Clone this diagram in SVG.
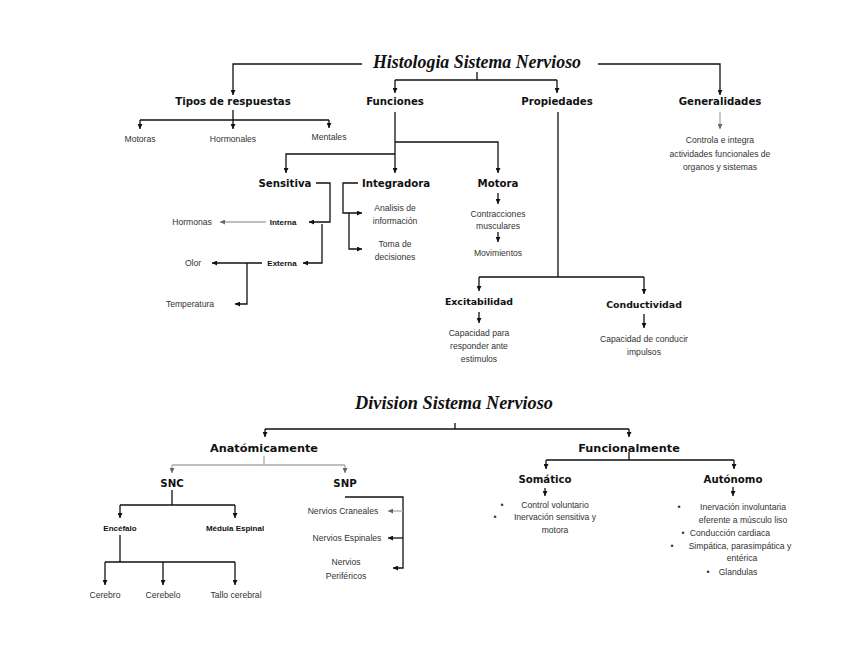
<svg xmlns="http://www.w3.org/2000/svg" width="848" height="655" viewBox="0 0 848 655">
<style>
.t{font-family:"Liberation Serif",serif;font-style:italic;font-weight:bold;fill:#111}
.h{font-family:"DejaVu Sans",sans-serif;font-weight:bold;font-size:10.2px;fill:#111;text-anchor:middle;dominant-baseline:central}
.hs{font-family:"DejaVu Sans",sans-serif;font-weight:bold;font-size:9.4px;fill:#111;text-anchor:middle;dominant-baseline:central}
.hb{font-family:"DejaVu Sans",sans-serif;font-weight:bold;font-size:11.3px;fill:#111;text-anchor:middle;dominant-baseline:central}
.s{font-family:"Liberation Sans",sans-serif;font-size:8.6px;fill:#333;text-anchor:middle;dominant-baseline:central}
.sb{font-family:"Liberation Sans",sans-serif;font-weight:bold;font-size:8px;fill:#111;text-anchor:middle;dominant-baseline:central}
.c path{fill:none;stroke:#111;stroke-width:1.3}
.c path.g{stroke:#aaa}
.c path.a{marker-end:url(#ar)}
.c path.ag{marker-end:url(#arg)}
</style>
<defs>
<marker id="ar" markerWidth="5" markerHeight="5" refX="5" refY="2.5" orient="auto" markerUnits="userSpaceOnUse"><path d="M0,0 L5,2.5 L0,5 z" fill="#111"/></marker>
<marker id="arg" markerWidth="5" markerHeight="5" refX="5" refY="2.5" orient="auto" markerUnits="userSpaceOnUse"><path d="M0,0 L5,2.5 L0,5 z" fill="#666"/></marker>
</defs>
<rect width="848" height="655" fill="#fff"/>
<g class="c" id="connectors">
<path d="M362,64 H233 V95" class="a"/>
<path d="M598,64 H720 V95" class="a"/>
<path d="M477,72 V80 M395,80 H557"/>
<path d="M395,80 V93" class="a"/>
<path d="M557,80 V93" class="a"/>
<path d="M233,110 V120 M140,120 H329"/>
<path d="M140,120 V129" class="a"/>
<path d="M233,120 V129" class="a"/>
<path d="M329,120 V128" class="a"/>
<path d="M395,112 V173" class="a"/>
<path d="M395,142 H498 V173" class="a"/>
<path d="M395,154 H286 V173" class="a"/>
<path d="M558,112 V277 M479,277 H644"/>
<path d="M479,277 V291" class="a"/>
<path d="M644,277 V294" class="a"/>
<path d="M720,112 V129" class="g ag"/>
<path d="M316,183 H330 V222 H309" class="a"/>
<path d="M322,224 V263 H303" class="a"/>
<path d="M266,222 H220" class="g ag"/>
<path d="M262,263 H212" class="a"/>
<path d="M247,263 V304 H235" class="a"/>
<path d="M358,183 H343 V213 H362" class="a"/>
<path d="M349,213 V249 H362" class="a"/>
<path d="M498,193 V204" class="a"/>
<path d="M498,232 V242" class="a"/>
<path d="M479,312 V323" class="a"/>
<path d="M644,314 V328" class="a"/>
<path d="M265,429 H629 M455,423 V429"/>
<path d="M265,429 V437" class="a"/>
<path d="M629,429 V437" class="a"/>
<path d="M264,456 V465 M172,465 H345" class="g"/>
<path d="M172,465 V473" class="g ag"/>
<path d="M345,465 V473" class="g ag"/>
<path d="M172,490 V505 M120,505 H235"/>
<path d="M120,505 V518" class="a"/>
<path d="M235,505 V518" class="a"/>
<path d="M120,535 V562 M105,562 H235"/>
<path d="M105,562 V585" class="a"/>
<path d="M163,562 V585" class="a"/>
<path d="M235,562 V585" class="a"/>
<path d="M345,497 H403 V568 H393" class="a"/>
<path d="M403,511 H388" class="g ag"/>
<path d="M403,538 H388" class="a"/>
<path d="M629,452 V460 M546,460 H734"/>
<path d="M546,460 V469" class="a"/>
<path d="M734,460 V469" class="a"/>
<path d="M545,488 V496" class="a"/>
<path d="M733,487 V496" class="a"/>
</g>
<g id="title1"><text class="t" x="477" y="68" font-size="19" text-anchor="middle" textLength="208" lengthAdjust="spacingAndGlyphs">Histologia Sistema Nervioso</text></g>
<g id="tipos"><text class="h" x="233" y="101">Tipos de respuestas</text></g>
<g id="motoras"><text class="s" x="140" y="139">Motoras</text></g>
<g id="hormonales"><text class="s" x="233" y="139">Hormonales</text></g>
<g id="mentales"><text class="s" x="329" y="137">Mentales</text></g>
<g id="funciones"><text class="h" x="395" y="101">Funciones</text></g>
<g id="propiedades"><text class="h" x="557" y="101">Propiedades</text></g>
<g id="generalidades"><text class="h" x="720" y="101">Generalidades</text></g>
<g id="gen-text"><text class="s" x="720" y="140">Controla e integra</text><text class="s" x="720" y="154">actividades funcionales de</text><text class="s" x="720" y="167">organos y sistemas</text></g>
<g id="sensitiva"><text class="h" x="285" y="183">Sensitiva</text></g>
<g id="interna"><text class="sb" x="283" y="222">Interna</text></g>
<g id="hormonas"><text class="s" x="192" y="222">Hormonas</text></g>
<g id="externa"><text class="sb" x="282" y="263">Externa</text></g>
<g id="olor"><text class="s" x="193" y="263">Olor</text></g>
<g id="temperatura"><text class="s" x="190" y="304">Temperatura</text></g>
<g id="integradora"><text class="h" x="396" y="183">Integradora</text></g>
<g id="analisis"><text class="s" x="395" y="208">Analisis de</text><text class="s" x="395" y="221">información</text></g>
<g id="toma"><text class="s" x="395" y="244">Toma de</text><text class="s" x="395" y="257">decisiones</text></g>
<g id="motora"><text class="h" x="498" y="183">Motora</text></g>
<g id="contracciones"><text class="s" x="498" y="214">Contracciones</text><text class="s" x="498" y="226">musculares</text></g>
<g id="movimientos"><text class="s" x="498" y="253">Movimientos</text></g>
<g id="excitabilidad"><text class="hs" x="479" y="301">Excitabilidad</text></g>
<g id="exc-text"><text class="s" x="479" y="333">Capacidad para</text><text class="s" x="479" y="346">responder ante</text><text class="s" x="479" y="359">estimulos</text></g>
<g id="conductividad"><text class="hs" x="644" y="304">Conductividad</text></g>
<g id="cond-text"><text class="s" x="644" y="339">Capacidad de conducir</text><text class="s" x="644" y="352">impulsos</text></g>
<g id="title2"><text class="t" x="454" y="409" font-size="19" text-anchor="middle" textLength="198" lengthAdjust="spacingAndGlyphs">Division Sistema Nervioso</text></g>
<g id="anatomicamente"><text class="hb" x="264" y="448">Anatómicamente</text></g>
<g id="snc"><text class="h" x="172" y="483">SNC</text></g>
<g id="snp"><text class="h" x="345" y="483">SNP</text></g>
<g id="encefalo"><text class="sb" x="120" y="528">Encéfalo</text></g>
<g id="medula"><text class="sb" x="235" y="528">Médula Espinal</text></g>
<g id="cerebro"><text class="s" x="105" y="595">Cerebro</text></g>
<g id="cerebelo"><text class="s" x="163" y="595">Cerebelo</text></g>
<g id="tallo"><text class="s" x="236" y="595">Tallo cerebral</text></g>
<g id="craneales"><text class="s" x="343" y="511">Nervios Craneales</text></g>
<g id="espinales"><text class="s" x="347" y="538">Nervios Espinales</text></g>
<g id="perifericos"><text class="s" x="346" y="562">Nervios</text><text class="s" x="346" y="576">Periféricos</text></g>
<g id="funcionalmente"><text class="hb" x="629" y="448">Funcionalmente</text></g>
<g id="somatico"><text class="h" x="545" y="479">Somático</text></g>
<g id="som-text"><text class="s" x="502" y="505">•</text><text class="s" x="555" y="505">Control voluntario</text><text class="s" x="495" y="517">•</text><text class="s" x="555" y="517">Inervación sensitiva y</text><text class="s" x="555" y="530">motora</text></g>
<g id="autonomo"><text class="h" x="733" y="479">Autónomo</text></g>
<g id="aut-text"><text class="s" x="679" y="507">•</text><text class="s" x="743" y="507">Inervación involuntaria</text><text class="s" x="743" y="520">eferente a músculo liso</text><text class="s" x="683" y="533">•</text><text class="s" x="730" y="533">Conducción cardiaca</text><text class="s" x="672" y="546">•</text><text class="s" x="740" y="546">Simpática, parasimpática y</text><text class="s" x="742" y="558">entérica</text><text class="s" x="708" y="572">•</text><text class="s" x="738" y="572">Glandulas</text></g>
</svg>
